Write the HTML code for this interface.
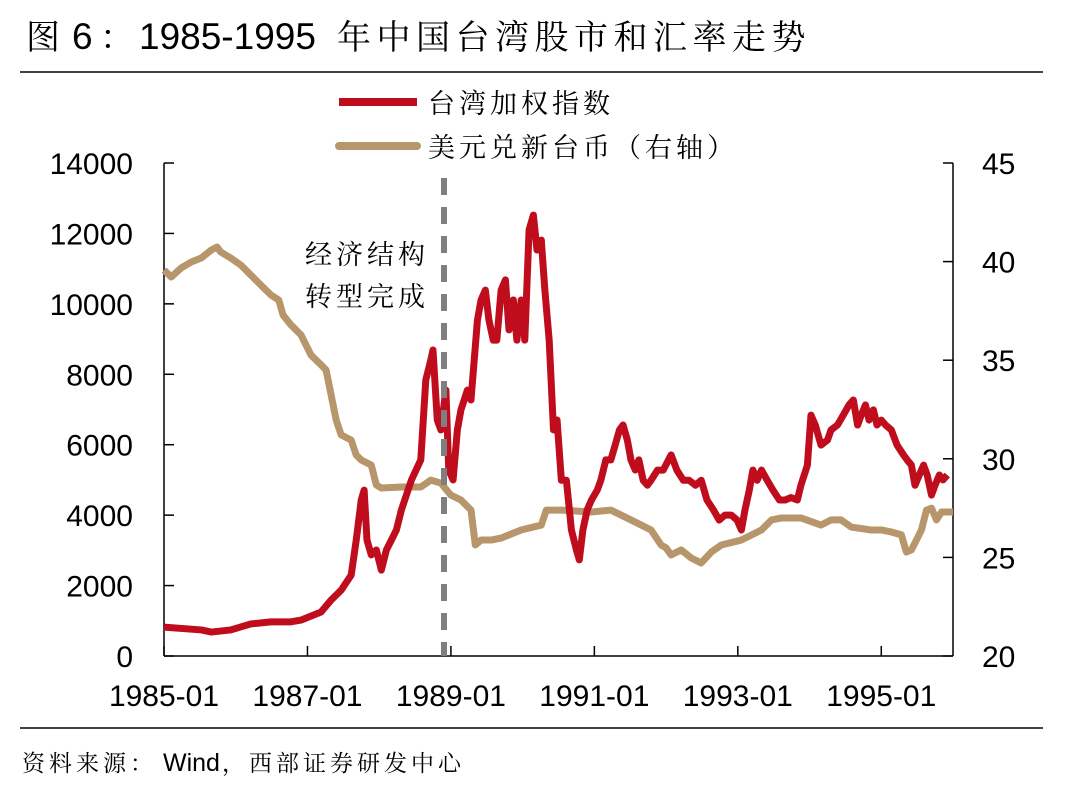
<!DOCTYPE html>
<html><head><meta charset="utf-8"><style>
body{margin:0;background:#fff;}
svg text{font-family:"Liberation Sans","Noto Serif CJK SC",serif;}
.cj{font-family:"Noto Serif CJK SC","Liberation Serif",serif;}
.ax{font-family:"Liberation Sans",sans-serif;}
</style></head><body>
<svg id="chart" width="1073" height="791" xmlns="http://www.w3.org/2000/svg">
<text y="49" fill="#000"><tspan class="cj" x="26" font-size="34">图</tspan><tspan class="ax" x="72" font-size="37">6</tspan><tspan class="cj" x="100" font-size="34">：</tspan><tspan class="ax" x="139" font-size="37">1985-1995</tspan><tspan class="cj" x="337" font-size="34" letter-spacing="5.5">年中国台湾股市和汇率走势</tspan></text>
<line x1="20" y1="72" x2="1043" y2="72" stroke="#000" stroke-width="1.5"/>
<line x1="20" y1="728" x2="1043" y2="728" stroke="#000" stroke-width="1.5"/>
<text y="771" fill="#000"><tspan class="cj" x="22" font-size="23" letter-spacing="4">资料来源：</tspan><tspan class="ax" x="163" font-size="25">Wind</tspan><tspan class="cj" x="222" font-size="23" letter-spacing="4">，西部证券研发中心</tspan></text>
<g>
<line x1="339" y1="102" x2="417" y2="102" stroke="#c00d1e" stroke-width="8"/>
<text class="cj" x="428" y="113" font-size="27" letter-spacing="4">台湾加权指数</text>
<line x1="339" y1="146" x2="417" y2="146" stroke="#b8966c" stroke-width="8" stroke-linecap="round"/>
<text class="cj" x="428" y="157" font-size="27" letter-spacing="4">美元兑新台币（右轴）</text>
</g>
<text class="cj" x="305" y="264" font-size="27" letter-spacing="4">经济结构</text>
<text class="cj" x="305" y="306" font-size="27" letter-spacing="4">转型完成</text>
<g id="plot"></g>
</svg>
<script>
const xTickLabels=["1985-01","1987-01","1989-01","1991-01","1993-01","1995-01"];
const xTickYears=[1985,1987,1989,1991,1993,1995];
const leftTicks=[0,2000,4000,6000,8000,10000,12000,14000];
const rightTicks=[20,25,30,35,40,45];
const taiexYears=[1985,1985.52,1985.66,1985.93,1986.21,1986.49,1986.77,1986.91,1987.19,1987.33,1987.47,1987.61,1987.68,1987.75,1987.79,1987.83,1987.89,1987.96,1988.03,1988.10,1988.17,1988.24,1988.31,1988.45,1988.58,1988.65,1988.72,1988.75,1988.81,1988.86,1988.93,1988.97,1989.03,1989.09,1989.14,1989.23,1989.28,1989.37,1989.42,1989.48,1989.53,1989.59,1989.64,1989.70,1989.76,1989.81,1989.87,1989.92,1989.98,1990.03,1990.09,1990.15,1990.20,1990.26,1990.31,1990.37,1990.43,1990.48,1990.54,1990.61,1990.68,1990.75,1990.79,1990.84,1990.90,1990.96,1991.04,1991.09,1991.16,1991.23,1991.29,1991.35,1991.40,1991.46,1991.51,1991.57,1991.62,1991.68,1991.74,1991.79,1991.88,1991.96,1992.07,1992.15,1992.24,1992.32,1992.41,1992.49,1992.57,1992.66,1992.74,1992.82,1992.91,1992.99,1993.05,1993.10,1993.16,1993.21,1993.27,1993.33,1993.41,1993.49,1993.58,1993.66,1993.74,1993.83,1993.88,1993.97,1994.02,1994.08,1994.16,1994.25,1994.30,1994.39,1994.47,1994.55,1994.61,1994.67,1994.72,1994.78,1994.83,1994.89,1994.94,1995.0,1995.06,1995.14,1995.22,1995.31,1995.36,1995.42,1995.47,1995.53,1995.59,1995.64,1995.70,1995.75,1995.81,1995.86,1995.92,1995.98,1996.0];
const taiexValues=[820,740,680,740,910,970,970,1020,1250,1590,1870,2300,3290,4430,4710,3290,2870,3010,2440,3010,3290,3580,4150,5000,5570,7840,8410,8690,6700,6420,7550,5280,5000,6420,6990,7550,7270,9540,10110,10390,9540,8970,8970,10390,10680,9260,10110,8970,10110,8970,12100,12520,11530,11810,10390,8970,6420,6700,4990,4990,3580,3010,2730,3580,4150,4430,4710,4990,5570,5570,5990,6420,6560,6130,5570,5280,5570,4990,4850,4990,5280,5280,5710,5280,4990,4990,4850,4990,4430,4150,3860,4000,4000,3860,3580,4150,4710,5280,4990,5280,4990,4710,4430,4430,4500,4430,4850,5420,6840,6560,5990,6130,6420,6560,6840,7130,7270,6560,6840,7130,6700,6990,6560,6700,6560,6420,5990,5710,5570,5420,4850,5140,5420,5140,4570,4850,5140,5000,5140];
const twdYears=[1985,1985.10,1985.24,1985.38,1985.52,1985.66,1985.74,1985.79,1985.93,1986.07,1986.21,1986.35,1986.49,1986.60,1986.66,1986.77,1986.91,1987.05,1987.19,1987.26,1987.33,1987.40,1987.47,1987.61,1987.68,1987.75,1987.89,1987.96,1988.03,1988.31,1988.58,1988.72,1988.86,1989.0,1989.14,1989.28,1989.34,1989.42,1989.56,1989.70,1989.98,1990.26,1990.33,1990.54,1990.96,1991.23,1991.51,1991.79,1991.93,1992.0,1992.07,1992.21,1992.35,1992.49,1992.63,1992.77,1993.05,1993.33,1993.47,1993.61,1993.88,1994.16,1994.30,1994.44,1994.58,1994.86,1995.0,1995.14,1995.28,1995.35,1995.42,1995.49,1995.56,1995.63,1995.70,1995.77,1995.84,1996.0];
const twdValues=[39.57,39.22,39.68,39.98,40.18,40.59,40.74,40.49,40.18,39.83,39.32,38.81,38.31,38.05,37.29,36.79,36.28,35.26,34.76,34.5,33.24,31.97,31.21,30.95,30.19,29.94,29.68,28.67,28.52,28.57,28.57,28.92,28.77,28.16,27.91,27.4,25.63,25.88,25.88,25.98,26.39,26.64,27.4,27.4,27.3,27.4,26.9,26.39,25.63,25.48,25.12,25.38,24.97,24.72,25.27,25.63,25.88,26.39,26.9,27.0,27.0,26.64,26.9,26.9,26.54,26.39,26.39,26.29,26.14,25.27,25.38,25.88,26.39,27.4,27.5,26.9,27.3,27.3];
const NS="http://www.w3.org/2000/svg";
const X0=164,X1=953,Y0=656,Y1=163;
function xs(y){return X0+(y-1985)/11*(X1-X0);}
function yl(v){return Y0-v/14000*(Y0-Y1);}
function yr(v){return Y0-(v-20)/25*(Y0-Y1);}
const g=document.getElementById('plot');
function mk(t,a){const e=document.createElementNS(NS,t);for(const k in a)e.setAttribute(k,a[k]);g.appendChild(e);return e;}
let e=mk('line',{x1:X0,y1:Y0,x2:X1,y2:Y0,stroke:'#000','stroke-width':1.5});


e=mk('line',{x1:X0,y1:Y0,x2:X0,y2:Y1,stroke:'#000','stroke-width':1.5});


e=mk('line',{x1:X1,y1:Y0,x2:X1,y2:Y1,stroke:'#000','stroke-width':1.5});


leftTicks.forEach(v=>{const y=yl(v);
 let t=mk('line',{x1:X0,y1:y,x2:X0+10,y2:y,stroke:'#000','stroke-width':1.5});
 
 
 let s=mk('text',{x:133,y:y+11,'font-size':30,'text-anchor':'end','class':'ax'});s.textContent=v;
 
 });
rightTicks.forEach(v=>{const y=yr(v);
 let t=mk('line',{x1:X1-10,y1:y,x2:X1,y2:y,stroke:'#000','stroke-width':1.5});
 
 
 let s=mk('text',{x:982,y:y+11,'font-size':30,'class':'ax'});s.textContent=v;
 
 });
xTickYears.forEach((yy,i)=>{const x=xs(yy);
 let t=mk('line',{x1:x,y1:Y0,x2:x,y2:Y0-10,stroke:'#000','stroke-width':1.5});
 
 
 let s=mk('text',{x:x,y:706,'font-size':30,'text-anchor':'middle','class':'ax'});s.textContent=xTickLabels[i];
 
 });
let twd=mk('polyline',{points:twdYears.map((y,i)=>xs(y)+','+yr(twdValues[i])).join(' '),fill:'none',stroke:'#b8966c','stroke-width':7,'stroke-linejoin':'round'});


let tx=mk('polyline',{points:taiexYears.map((y,i)=>xs(y)+','+yl(taiexValues[i])).join(' '),fill:'none',stroke:'#c00d1e','stroke-width':7,'stroke-linejoin':'round'});


let d=mk('line',{x1:444,y1:178,x2:444,y2:Y0,stroke:'#7f7f7f','stroke-width':6,'stroke-dasharray':'17 12'});


</script>
</body></html>
